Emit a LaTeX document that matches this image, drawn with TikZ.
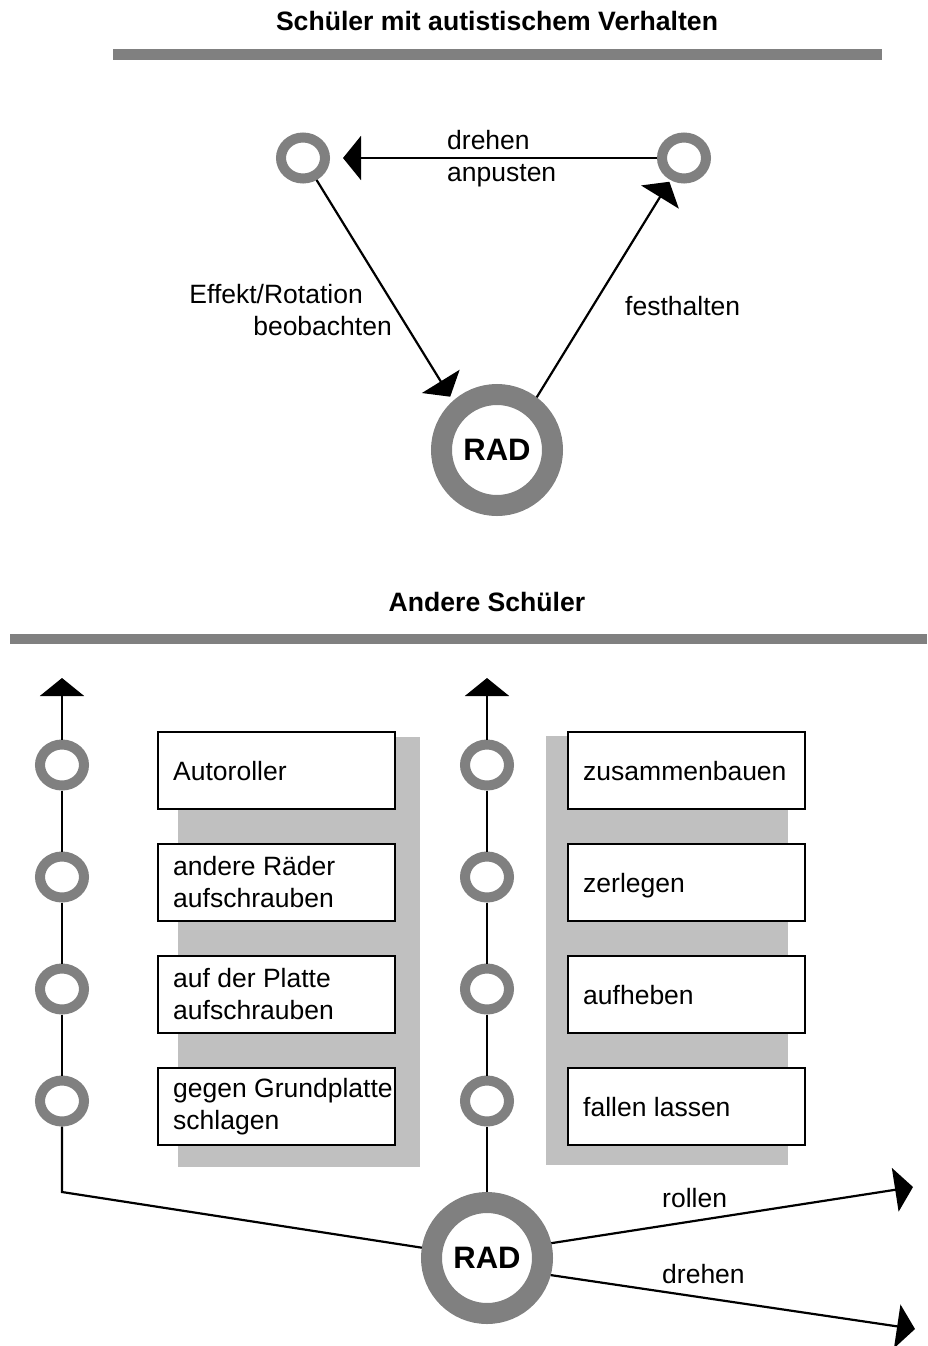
\documentclass[tikz,border=0pt]{standalone}
\usepackage{fontspec}
\setmainfont{Liberation Sans}
\usetikzlibrary{arrows.meta,shapes.geometric}
\definecolor{ringgray}{HTML}{808080}
\definecolor{shadowgray}{HTML}{C0C0C0}
\begin{document}
\begin{tikzpicture}[x=1pt,y=-1pt,
  lbl/.style={font=\fontsize{26.5}{32}\selectfont, inner sep=0pt},
  hdr/.style={font=\bfseries\fontsize{26.6}{30}\selectfont, inner sep=0pt},
  ring/.style={ellipse, draw=ringgray, line width=10pt, fill=white, minimum width=44pt, minimum height=41pt, inner sep=0pt},
  bigring/.style={circle, draw=ringgray, line width=21pt, fill=white, minimum size=111pt, inner sep=0pt, font=\bfseries\fontsize{31}{34}\selectfont},
  conn/.style={line width=2.2pt, draw=black},
  tip/.style={-{Triangle[length=18pt,width=44pt]}},
  box/.style={draw, line width=2pt, fill=white, minimum width=237pt, minimum height=77pt, inner sep=0pt},
  shadow/.style={fill=shadowgray}
]
\useasboundingbox (0,0) rectangle (927,1346);

% ---------- top section ----------
\node[hdr, anchor=base] (h1) at (497,31) {Schüler mit autistischem Verhalten};
\fill[ringgray] (113,49.5) rectangle (882,60.5);

\node[ring] (c1) at (303,158) {};
\node[ring] (c2) at (684,158) {};
\node[bigring] (radT) at (497,450) {RAD};

\draw[conn,tip,shorten >=13pt] (c2) -- (c1);
\draw[conn,tip,shorten >=5pt] (c1) -- (radT.132);
\draw[conn,tip,shorten >=2pt] (radT.53) -- (c2);

\node[lbl, anchor=base west] (t1) at (447,149) {drehen};
\node[lbl, anchor=base west] (t2) at (447,181) {anpusten};
\node[lbl, anchor=base east] (t3) at (363,303) {Effekt/Rotation};
\node[lbl, anchor=base east] (t4) at (392,335) {beobachten};
\node[lbl, anchor=base west] (t5) at (625,315) {festhalten};

% ---------- bottom section ----------
\node[hdr, anchor=base] (h2) at (487,611) {Andere Schüler};
\fill[ringgray] (10,634) rectangle (927,644);

\fill[shadow] (178,737) rectangle (420,1167);
\fill[shadow] (546,736) rectangle (788,1165);

\node[box] (b1) at (276.5,770.5) {};
\node[box] (b2) at (276.5,882.5) {};
\node[box] (b3) at (276.5,994.5) {};
\node[box] (b4) at (276.5,1106.5) {};
\node[box] (b5) at (686.5,770.5) {};
\node[box] (b6) at (686.5,882.5) {};
\node[box] (b7) at (686.5,994.5) {};
\node[box] (b8) at (686.5,1106.5) {};

\node[lbl, anchor=base west] (x1) at (173,780) {Autoroller};
\node[lbl, anchor=west, align=left] (x2) at (173,882.5) {andere Räder\\aufschrauben};
\node[lbl, anchor=west, align=left] (x3) at (173,994.5) {auf der Platte\\aufschrauben};
\node[lbl, anchor=west, align=left] (x4) at (173,1106.5) {gegen Grundplatte\\schlagen};
\node[lbl, anchor=base west] (x5) at (583,780) {zusammenbauen};
\node[lbl, anchor=base west] (x6) at (583,892) {zerlegen};
\node[lbl, anchor=base west] (x7) at (583,1004) {aufheben};
\node[lbl, anchor=base west] (x8) at (583,1116) {fallen lassen};

\node[ring] (L1) at (62,765) {};
\node[ring] (L2) at (62,877) {};
\node[ring] (L3) at (62,989) {};
\node[ring] (L4) at (62,1101) {};
\node[ring] (R1) at (487,765) {};
\node[ring] (R2) at (487,877) {};
\node[ring] (R3) at (487,989) {};
\node[ring] (R4) at (487,1101) {};
\node[bigring] (radB) at (487,1258) {RAD};

\coordinate (tipL) at (62,678);
\coordinate (tipR) at (487,678);
\coordinate (bend) at (62,1192);
\coordinate (endA) at (913,1187);
\coordinate (endB) at (915,1329);

\draw[conn,tip] (L1) -- (tipL);
\draw[conn] (L1) -- (L2);
\draw[conn] (L2) -- (L3);
\draw[conn] (L3) -- (L4);
\draw[conn] (radB.171) -- (bend) -- (L4);

\draw[conn,tip] (R1) -- (tipR);
\draw[conn] (R1) -- (R2);
\draw[conn] (R2) -- (R3);
\draw[conn] (R3) -- (R4);
\draw[conn] (radB) -- (R4);

\draw[conn,tip] (radB.13) -- (endA);
\draw[conn,tip] (radB.-15) -- (endB);

\node[lbl, anchor=base west] (r1) at (662,1207) {rollen};
\node[lbl, anchor=base west] (r2) at (662,1283) {drehen};
\end{tikzpicture}
\end{document}
